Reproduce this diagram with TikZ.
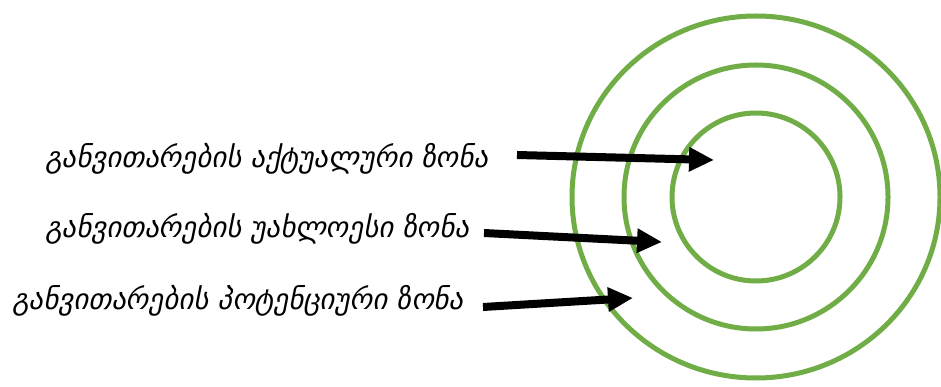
\documentclass[tikz,border=0pt]{standalone}
\usepackage{fontspec}
\newfontfamily\geo{DejaVu Sans}[FakeSlant=0.2]
\usetikzlibrary{arrows.meta}
\definecolor{ringgreen}{HTML}{70AD47}
\begin{document}
\begin{tikzpicture}[x=1pt,y=-1pt,
  ring/.style={draw=ringgreen,line width=5pt},
  zonelabel/.style={anchor=west,inner sep=0pt,font=\geo\fontsize{28.8}{32}\selectfont},
  pointer/.style={line width=8pt,-{Triangle[length=25pt,width=23pt]}}]
\useasboundingbox (0,0) rectangle (941,387);
\coordinate (c) at (756,197);
\draw[ring] (c) circle (84);
\draw[ring] (c) circle (132);
\draw[ring] (c) ellipse [x radius=184, y radius=181];
\node[zonelabel] (t1) at (45,159) {განვითარების აქტუალური ზონა};
\node[zonelabel] (t2) at (45,229) {განვითარების უახლოესი ზონა};
\node[zonelabel] (t3) at (12,301) {განვითარების პოტენციური ზონა};
\coordinate (s1) at (517,155);
\coordinate (e1) at (714,160);
\coordinate (s2) at (484,233);
\coordinate (e2) at (662,242);
\coordinate (s3) at (483,307);
\coordinate (e3) at (633,298);
\draw[pointer] (s1) -- (e1);
\draw[pointer] (s2) -- (e2);
\draw[pointer] (s3) -- (e3);
\end{tikzpicture}
\end{document}
